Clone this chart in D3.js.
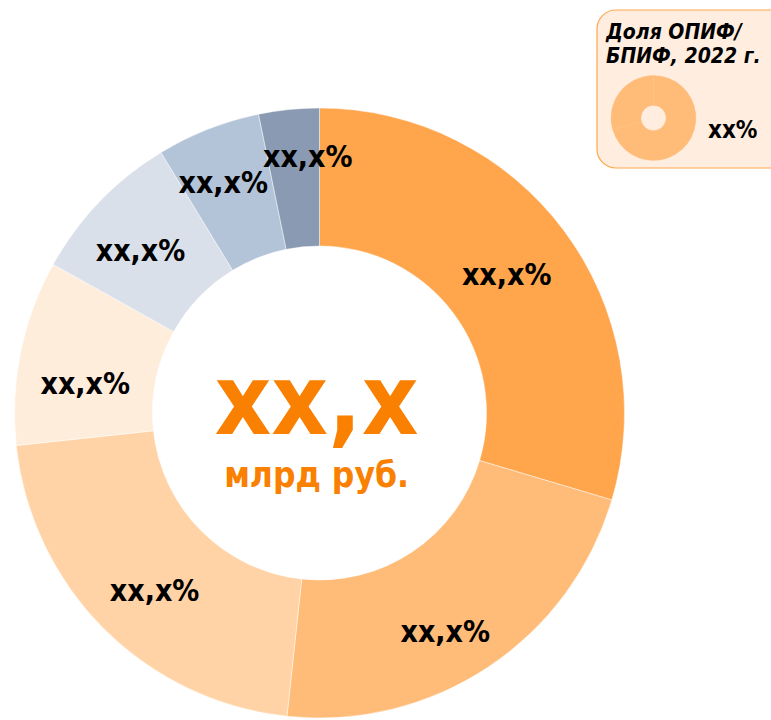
<!DOCTYPE html>
<html>
<head>
<meta charset="utf-8">
<script src="https://cdn.jsdelivr.net/npm/d3@7"></script>
<style>
  html, body { margin: 0; padding: 0; background: #ffffff; }
  svg { display: block; }
  text { font-family: "DejaVu Sans", Verdana, sans-serif; font-stretch: condensed; }
</style>
</head>
<body>
<svg id="chart" width="771" height="720"></svg>
<script>
// Fund structure shares (percent of total net assets)
const categories = ["Сегмент 1", "Сегмент 2", "Сегмент 3", "Сегмент 4", "Сегмент 5", "Сегмент 6", "Сегмент 7"];
const shares = [29.6, 22.1, 21.6, 9.8, 8.2, 5.5, 3.2];
const sliceLabels = ["xx,x%", "xx,x%", "xx,x%", "xx,x%", "xx,x%", "xx,x%", "xx,x%"];
const sliceColors = ["#FFA64D", "#FFBB78", "#FFD3A6", "#FFEDDC", "#DAE0EA", "#B4C4D8", "#8A9AB2"];

// Centre caption
const totalLabel = "xx,x";
const unitLabel = "млрд руб.";

// Inset: share of open-end / exchange-traded funds
const insetTitle = ["Доля ОПИФ/", "БПИФ, 2022 г."];
const insetShares = [70.5, 29.5];
const insetLabel = "xx%";

// Label nudges away from the arc centroids (px)
const labelNudge = [[-2, 5], [-5, 24], [2, 13], [-3, 20], [-9, 3], [-10, -9], [12, -20]];

const svg = d3.select("#chart");

const cx = 319.5, cy = 413;
const outerR = 305, innerR = 167;

const pie = d3.pie().sort(null).value(d => d);
const arc = d3.arc().innerRadius(innerR).outerRadius(outerR);
const labelArc = d3.arc().innerRadius(236).outerRadius(236);

const color = d3.scaleOrdinal().domain(d3.range(shares.length)).range(sliceColors);

const g = svg.append("g").attr("transform", `translate(${cx},${cy})`);
const arcs = pie(shares);

g.selectAll("path.slice")
  .data(arcs)
  .join("path")
  .attr("class", "slice")
  .attr("d", arc)
  .attr("fill", (d, i) => color(i))
  .attr("stroke", "#ffffff")
  .attr("stroke-opacity", 0.6)
  .attr("stroke-width", 0.75);

g.selectAll("text.slice-label")
  .data(arcs)
  .join("text")
  .attr("class", "slice-label")
  .attr("transform", (d, i) => {
    const [x, y] = labelArc.centroid(d);
    return `translate(${x + labelNudge[i][0]},${y + labelNudge[i][1]})`;
  })
  .attr("text-anchor", "middle")
  .attr("dy", "0.28em")
  .attr("font-size", 30)
  .attr("font-weight", "bold")
  .attr("fill", "#000000")
  .text((d, i) => sliceLabels[i]);

// Centre total
g.append("text")
  .attr("x", -3).attr("y", 21)
  .attr("text-anchor", "middle")
  .attr("font-size", 98)
  .attr("font-weight", "bold")
  .attr("fill", "#F98000")
  .text(totalLabel);

g.append("text")
  .attr("x", -3).attr("y", 74)
  .attr("text-anchor", "middle")
  .attr("font-size", 35)
  .attr("font-weight", "bold")
  .attr("fill", "#F98000")
  .text(unitLabel);

// Inset box
const inset = svg.append("g");
inset.append("rect")
  .attr("x", 597).attr("y", 10)
  .attr("width", 200).attr("height", 158)
  .attr("rx", 19).attr("ry", 19)
  .attr("fill", "#FFEEDF")
  .attr("stroke", "#FFA64D")
  .attr("stroke-width", 1.2);

inset.selectAll("text.inset-title")
  .data(insetTitle)
  .join("text")
  .attr("class", "inset-title")
  .attr("x", 606)
  .attr("y", (d, i) => 39 + i * 24)
  .attr("font-size", 21)
  .attr("font-weight", "bold")
  .attr("font-style", "italic")
  .attr("fill", "#000000")
  .text(d => d);

const insetArc = d3.arc().innerRadius(12.5).outerRadius(42.5);
inset.append("g")
  .attr("transform", "translate(653.5,118)")
  .selectAll("path")
  .data(pie(insetShares))
  .join("path")
  .attr("d", insetArc)
  .attr("fill", "#FFBB78")
  .attr("stroke", "#FFBF80")
  .attr("stroke-width", 0.3);

inset.append("text")
  .attr("x", 708).attr("y", 138)
  .attr("font-size", 24)
  .attr("font-weight", "bold")
  .attr("fill", "#000000")
  .text(insetLabel);
</script>
</body>
</html>
